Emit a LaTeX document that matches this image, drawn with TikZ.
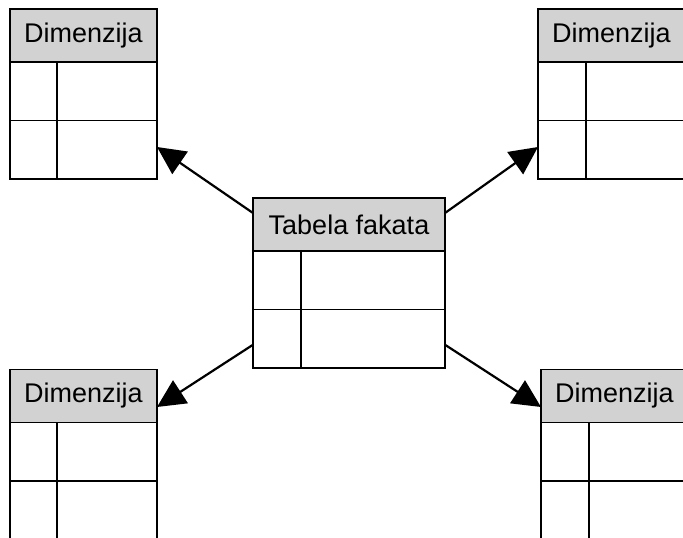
\documentclass[tikz,border=0pt]{standalone}
\usepackage{fontspec}
\setmainfont{Liberation Sans}
\usetikzlibrary{arrows.meta}
\definecolor{hdrgray}{RGB}{210,210,210}
\tikzset{
  frame/.style={draw=black, line width=1.6pt},
  hdr/.style={frame, fill=hdrgray, rectangle, minimum height=53pt, inner sep=0pt,
    outer sep=0pt, font=\fontsize{27}{31}\selectfont},
  bodyrow/.style={frame, fill=white, rectangle, minimum height=58.5pt, inner sep=0pt,
    outer sep=0pt},
  link/.style={line width=2.2pt, -{Triangle[length=28pt,width=27pt]}},
}
% #1 name, #2 left, #3 top, #4 width, #5 key column width, #6 title
\newcommand\drawtable[6]{%
  \node[hdr, minimum width=#4pt, anchor=north west] (#1-h) at (#2,#3) {#6};
  \node[bodyrow, minimum width=#4pt, anchor=north west] (#1-r1) at (#1-h.south west) {};
  \node[bodyrow, minimum width=#4pt, anchor=north west] (#1-r2) at (#1-r1.south west) {};
  \draw[frame] ([xshift=#5pt]#1-h.south west) -- ([xshift=#5pt]#1-r2.south west);
}
\begin{document}
\begin{tikzpicture}[x=1pt, y=-1pt]
  \useasboundingbox (0,0) rectangle (683,538);
  \clip (0,0) rectangle (683,538);
  \fill[white] (0,0) rectangle (683,538);

  % fact table in the middle
  \drawtable{fact}{253}{198}{192}{48}{Tabela fakata}
  % the four dimension tables
  \drawtable{tl}{10}{9}{147}{47}{Dimenzija}
  \drawtable{tr}{538}{9}{147}{48}{Dimenzija}
  \drawtable{bl}{10}{369.5}{147}{47}{Dimenzija}
  \drawtable{br}{541}{369.5}{147}{48}{Dimenzija}

  % relations from the fact table to the dimensions
  \draw[link] ([yshift=-15pt]fact-h.north west) -- ([yshift=32pt]tl-r2.south east);
  \draw[link] ([yshift=-15pt]fact-h.north east) -- ([yshift=32pt]tr-r2.south west);
  \draw[link] ([yshift=-6pt]fact-r2.west) -- ([yshift=-11pt]bl-h.east);
  \draw[link] ([yshift=-6pt]fact-r2.east) -- ([yshift=-11pt]br-h.west);
\end{tikzpicture}
\end{document}
